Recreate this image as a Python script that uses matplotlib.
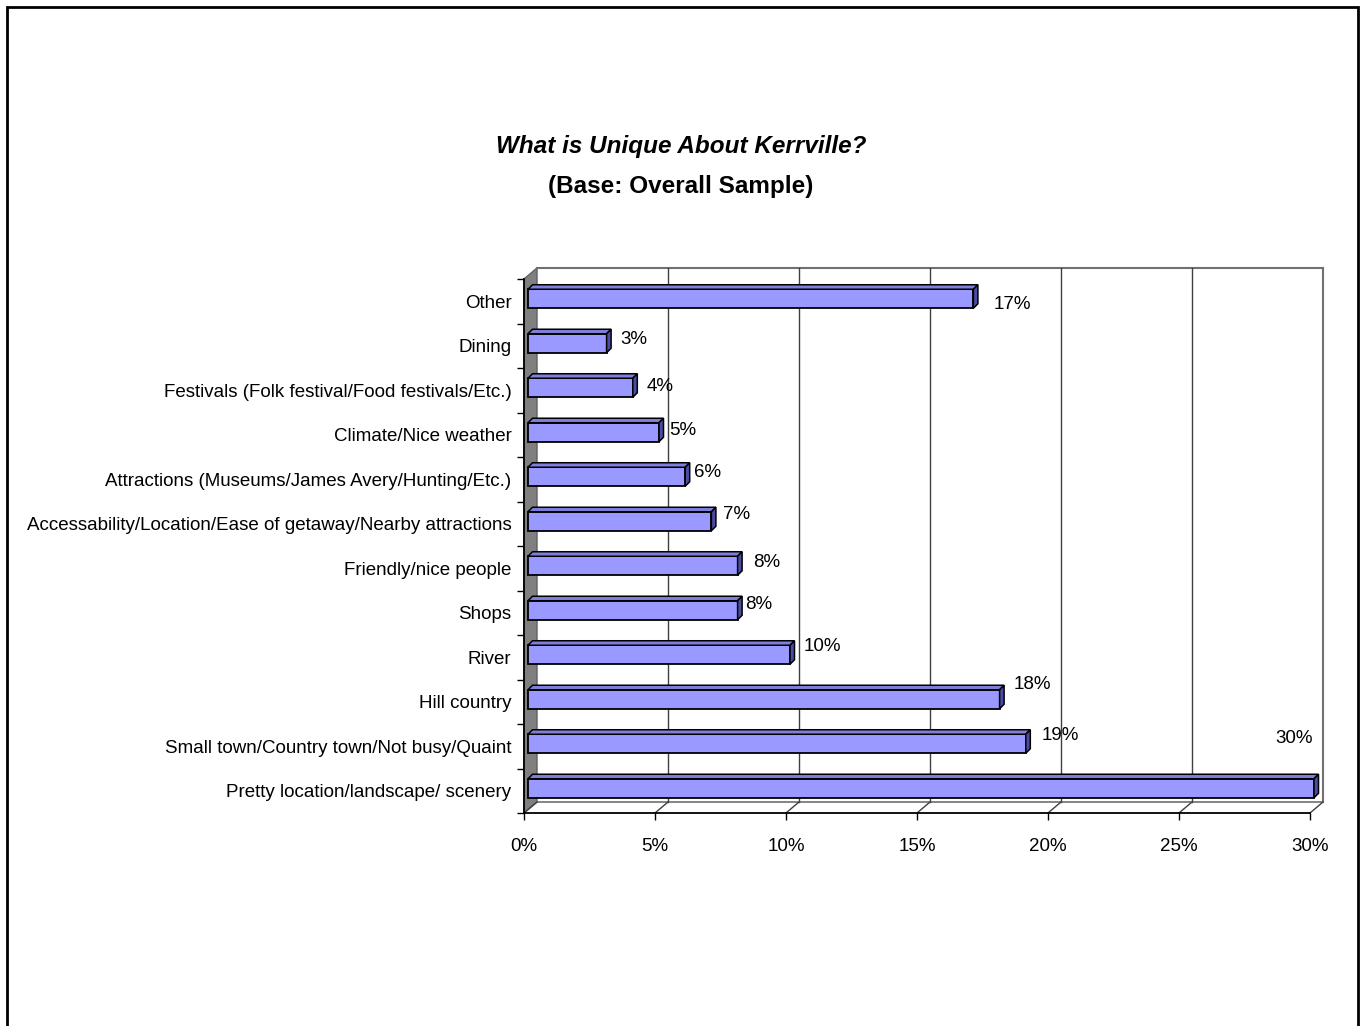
import matplotlib
matplotlib.use('Agg')
import matplotlib.pyplot as plt
from matplotlib import font_manager, transforms
from matplotlib.patches import Polygon, Rectangle

categories = ['Other', 'Dining', 'Festivals (Folk festival/Food festivals/Etc.)',
              'Climate/Nice weather', 'Attractions (Museums/James Avery/Hunting/Etc.)',
              'Accessability/Location/Ease of getaway/Nearby attractions',
              'Friendly/nice people', 'Shops', 'River', 'Hill country',
              'Small town/Country town/Not busy/Quaint',
              'Pretty location/landscape/ scenery']
values = [17, 3, 4, 5, 6, 7, 8, 8, 10, 18, 19, 30]
xticks = [0, 5, 10, 15, 20, 25, 30]
xtick_labels = ['0%', '5%', '10%', '15%', '20%', '25%', '30%']

# label nudges in pixels (right, up) from the end of each bar
label_nudge = [(43, -3), (31, 6), (31, 4), (28, 4), (26, 7), (29, 9),
               (33, 6), (25, 8), (36, 11), (37, 17), (39, 11), (-16, 52)]

# narrow Arial-like face if available
try:
    font_manager.findfont('Liberation Sans Narrow', fallback_to_default=False)
    family, fs, tfs = 'Liberation Sans Narrow', 15, 20
except ValueError:
    family, fs, tfs = 'Liberation Sans', 13.5, 17.5
plt.rcParams['font.family'] = [family, 'DejaVu Sans']

W, H = 1365, 1026
fig = plt.figure(figsize=(W / 100, H / 100), dpi=100)
fig.patch.set_facecolor('white')

# outer frame
fig.add_artist(Rectangle((7 / W, -0.05), 1351 / W, 1.05 - 7 / H, transform=fig.transFigure,
                         fill=False, edgecolor='black', linewidth=2))

fig.text(681 / W, 1 - 146 / H, 'What is Unique About Kerrville?', ha='center', va='center',
         fontsize=tfs, fontweight='bold', fontstyle='italic')
fig.text(681 / W, 1 - 187 / H, '(Base: Overall Sample)', ha='center', va='center',
         fontsize=tfs, fontweight='bold')

ax = fig.add_axes([524 / W, 1 - 813 / H, 786 / W, 534 / H])
n = len(categories)
ax.set_xlim(0, 30)
ax.set_ylim(n - 0.5, -0.5)
ax.patch.set_visible(False)

sx = 786 / 30   # px per percent
sy = 534 / n    # px per category
wdx, wdy = 13 / sx, 11 / sy   # wall depth
top, bot = -0.5, n - 0.5

# back wall, floor and grid
grid = '#707070'
ax.plot([wdx, 30 + wdx], [top - wdy, top - wdy], color=grid, lw=1.5, clip_on=False)
ax.plot([30 + wdx, 30 + wdx], [top - wdy, bot - wdy], color=grid, lw=1.5, clip_on=False)
ax.plot([wdx, 30 + wdx], [bot - wdy, bot - wdy], color=grid, lw=1.2, clip_on=False)
for t in xticks[1:-1]:
    ax.plot([t + wdx, t + wdx], [top - wdy, bot - wdy], color='#404040', lw=1.0, clip_on=False)
for t in xticks:
    ax.plot([t, t + wdx], [bot, bot - wdy], color='#404040', lw=1.0, clip_on=False)

# left side wall
ax.add_patch(Polygon([(0, top), (wdx, top - wdy), (wdx, bot - wdy), (0, bot)],
                     closed=True, facecolor='#808080', edgecolor='#606060', lw=1,
                     clip_on=False, zorder=1))

# 3D bars
bh = 19 / sy
bdx, bdy = 4.5 / sx, 4.5 / sy
shift = transforms.offset_copy(ax.transData, fig=fig, x=4, y=2.5, units='dots')
ax.barh(range(n), values, height=bh, color='#9999FF', edgecolor='black', linewidth=1.3,
        transform=shift, zorder=3, clip_on=False)
for i, v in enumerate(values):
    yt, yb = i - bh / 2, i + bh / 2
    ax.add_patch(Polygon([(0, yt), (v, yt), (v + bdx, yt - bdy), (bdx, yt - bdy)],
                         closed=True, facecolor='#7F7FDD', edgecolor='black', lw=1.1,
                         transform=shift, zorder=3, clip_on=False))
    ax.add_patch(Polygon([(v, yt), (v + bdx, yt - bdy), (v + bdx, yb - bdy), (v, yb)],
                         closed=True, facecolor='#4C4CA6', edgecolor='black', lw=1.1,
                         transform=shift, zorder=3, clip_on=False))
    dx, dy = label_nudge[i]
    ax.annotate(f'{v}%', xy=(v, i), xytext=(dx, dy), textcoords='offset pixels',
                ha='center', va='center', fontsize=fs, zorder=4)

# axes, ticks
for s in ['top', 'right']:
    ax.spines[s].set_visible(False)
ax.spines['left'].set_color('black')
ax.spines['bottom'].set_color('black')
ax.spines['left'].set_linewidth(1.3)
ax.spines['bottom'].set_linewidth(1.3)
ax.set_xticks(xticks)
ax.set_xticklabels(xtick_labels, fontsize=fs)
ax.set_yticks(range(n))
ax.set_yticklabels(categories, fontsize=fs)
ax.set_yticks([k - 0.5 for k in range(n + 1)], minor=True)
ax.tick_params(axis='y', which='major', length=0, pad=9)
ax.tick_params(axis='y', which='minor', length=5, width=1, color='black')
ax.tick_params(axis='x', length=5, width=1, pad=13)

fig.savefig('out.png', dpi=100, facecolor='white')
